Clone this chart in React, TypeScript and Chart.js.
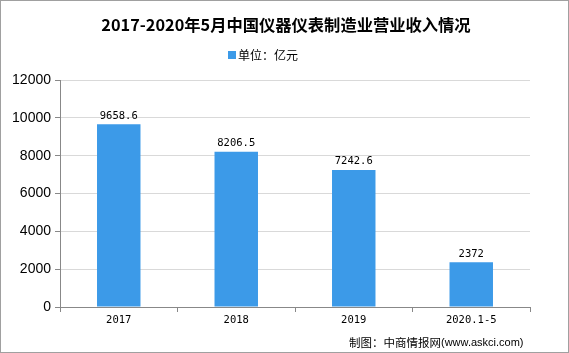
import React, { useEffect, useRef } from "react";
import { Chart, registerables } from "chart.js";

Chart.register(...registerables);

const categories = ["2017", "2018", "2019", "2020.1-5"];
const revenue = [9658.6, 8206.5, 7242.6, 2372];
const revenueLabels = ["9658.6", "8206.5", "7242.6", "2372"];
const yTicks = [0, 2000, 4000, 6000, 8000, 10000, 12000];
const titleText = "2017-2020年5月中国仪器仪表制造业营业收入情况";
const legendText = "单位：亿元";
const footerCn = "制图：中商情报网";
const footerEn = "(www.askci.com)";

const BAR = "#3c9ae8";

export default function App() {
  const ref = useRef<HTMLCanvasElement | null>(null);
  useEffect(() => {
    document.body.style.margin = "0";
    const canvas = ref.current!;
    const overlay = {
      id: "overlay",
      afterDatasetsDraw(chart: any) {
        const ctx = chart.ctx;
        const meta = chart.getDatasetMeta(0);
        ctx.save();
        ctx.fillStyle = "#000";
        ctx.font = "10.5px 'DejaVu Sans Mono', monospace";
        ctx.textAlign = "center";
        ctx.textBaseline = "bottom";
        meta.data.forEach((el: any, i: number) => {
          ctx.fillText(revenueLabels[i], el.x, el.y - 3);
        });
        ctx.restore();
      },
      afterDraw(chart: any) {
        const ctx = chart.ctx;
        ctx.save();
        ctx.fillStyle = "#000";
        ctx.textBaseline = "middle";
        ctx.textAlign = "center";
        ctx.font = "bold 16.3px 'Noto Sans CJK SC', sans-serif";
        ctx.fillText(titleText, 285, 24);
        // legend
        ctx.fillStyle = BAR;
        ctx.fillRect(227, 50, 8, 8);
        ctx.fillStyle = "#000";
        ctx.textAlign = "left";
        ctx.font = "12px 'Noto Sans CJK SC', sans-serif";
        ctx.fillText(legendText, 237, 54);
        // footer
        ctx.font = "11.5px 'Noto Sans CJK SC', sans-serif";
        ctx.fillText(footerCn, 348, 342);
        const w = ctx.measureText(footerCn).width;
        ctx.font = "11px 'Liberation Sans', sans-serif";
        ctx.fillText(footerEn, 348 + w, 342);
        ctx.restore();
      },
    };
    const chart = new Chart(canvas, {
      type: "bar",
      data: {
        labels: categories,
        datasets: [
          {
            label: legendText,
            data: revenue,
            backgroundColor: BAR,
            categoryPercentage: 1,
            barPercentage: 0.37,
          },
        ],
      },
      options: {
        animation: false,
        responsive: false,
        maintainAspectRatio: false,
        layout: { padding: { left: 0, right: 38, top: 79, bottom: 0 } },
        plugins: {
          legend: { display: false },
          title: { display: false },
          tooltip: { enabled: false },
        },
        scales: {
          x: {
            grid: {
              display: true,
              drawOnChartArea: false,
              drawTicks: true,
              tickLength: 5,
              color: "#888",
            },
            border: { display: true, color: "#888" },
            ticks: {
              color: "#000",
              font: { family: "'DejaVu Sans Mono', monospace", size: 10.5 },
              padding: 2,
            },
            afterFit(scale: any) {
              scale.height = 45;
            },
          },
          y: {
            min: 0,
            max: 12000,
            afterBuildTicks(scale: any) {
              scale.ticks = yTicks.map((v) => ({ value: v }));
            },
            grid: {
              color: "#d9d9d9",
              tickColor: "#888",
              tickLength: 5,
            },
            border: { display: true, color: "#888" },
            ticks: {
              color: "#000",
              font: { family: "'Liberation Sans', Arial, sans-serif", size: 14 },
              padding: 4,
              callback: (v: any) => String(v),
            },
            afterFit(scale: any) {
              scale.width = 59;
            },
          },
        },
      },
      plugins: [overlay],
    } as any);
    return () => chart.destroy();
  }, []);
  return (
    <div
      style={{
        position: "fixed",
        left: 0,
        top: 0,
        width: 569,
        height: 353,
        boxSizing: "border-box",
        border: "1px solid #a0a0a0",
        background: "#fff",
        overflow: "hidden",
      }}
    >
      <canvas
        ref={ref}
        width={567}
        height={351}
        style={{ display: "block", width: 567, height: 351 }}
      />
    </div>
  );
}
